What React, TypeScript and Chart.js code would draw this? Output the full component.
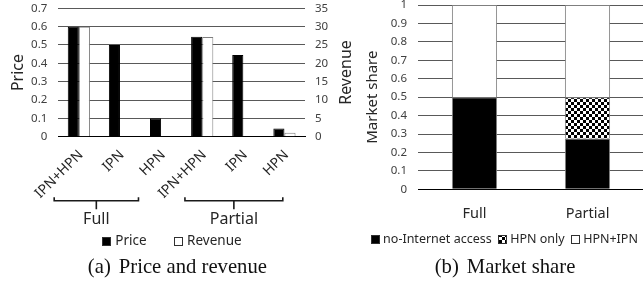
import React, { useEffect, useRef } from 'react';
import { Chart, registerables } from 'chart.js';

Chart.register(...registerables);

// ---- Data: (a) Price and revenue ----
const categories = ['IPN+HPN', 'IPN', 'HPN', 'IPN+HPN', 'IPN', 'HPN'];
const groups = ['Full', 'Partial'];
const price = [0.6, 0.5, 0.1, 0.545, 0.445, 0.045];
const revenue = [30, 0, 0, 27.2, 0, 1.1];

// ---- Data: (b) Market share ----
const shareCategories = ['Full', 'Partial'];
const noInternet = [0.5, 0.275];
const hpnOnly = [0, 0.225];
const hpnIpn = [0.5, 0.5];

const FONT = "'Noto Sans', 'Open Sans', sans-serif";
const TICK_COLOR = '#404040';
const TEXT_COLOR = '#262626';
const GRID = '#595959';
const CLEAR = 'rgba(0,0,0,0)';

const gridColor = (c: any) => (c.tick && c.tick.value === 0 ? '#000' : GRID);
const zeroSafeBorder = (c: any) => (c.type === 'data' && !c.raw ? 0 : 1);
const plainNum = (v: any) => String(Number(Number(v).toFixed(2)));

// bracket spans in category units (relative to first category center)
const bracketSpans = [
  { from: -0.6, to: 1.45 },
  { from: 2.58, to: 4.96 },
];

const makeLegendPlugin = (o: { cx: number; cy: number; size: number; box: number; gap: number; itemGap: number }) => ({
  id: 'boxLegend',
  afterDraw(chart: any) {
    const { ctx } = chart;
    ctx.save();
    ctx.font = `${o.size}px ${FONT}`;
    const items = chart.data.datasets.map((d: any) => ({ label: d.label, fill: d.backgroundColor }));
    const widths = items.map((it: any) => o.box + o.gap + ctx.measureText(it.label).width);
    const total = widths.reduce((a: number, b: number) => a + b, 0) + o.itemGap * (items.length - 1);
    let x = o.cx - total / 2;
    items.forEach((it: any, i: number) => {
      const top = Math.round(o.cy - o.box / 2);
      const left = Math.round(x);
      ctx.fillStyle = it.fill;
      ctx.fillRect(left, top, o.box, o.box);
      ctx.strokeStyle = '#303030';
      ctx.lineWidth = 1;
      ctx.strokeRect(left + 0.5, top + 0.5, o.box - 1, o.box - 1);
      ctx.fillStyle = TEXT_COLOR;
      ctx.textAlign = 'left';
      ctx.textBaseline = 'middle';
      ctx.fillText(it.label, x + o.box + o.gap, o.cy);
      x += widths[i] + o.itemGap;
    });
    ctx.restore();
  },
});

const bracketPlugin = {
  id: 'groupBrackets',
  afterDraw(chart: any) {
    const { ctx } = chart;
    const x = chart.scales.x;
    const p0 = x.getPixelForValue(0);
    const w = x.getPixelForValue(1) - p0;
    ctx.save();
    ctx.strokeStyle = '#1a1a1a';
    ctx.lineWidth = 1.6;
    const yLine = 200.7;
    groups.forEach((g, i) => {
      const s = bracketSpans[i];
      const l = p0 + s.from * w;
      const r = p0 + s.to * w;
      const c = (l + r) / 2;
      ctx.beginPath();
      ctx.moveTo(l, yLine - 3.5);
      ctx.lineTo(l, yLine);
      ctx.lineTo(r, yLine);
      ctx.lineTo(r, yLine - 3.5);
      ctx.moveTo(c, yLine);
      ctx.lineTo(c, yLine + 8.5);
      ctx.stroke();
      ctx.fillStyle = TEXT_COLOR;
      ctx.font = `16px ${FONT}`;
      ctx.textAlign = 'center';
      ctx.textBaseline = 'alphabetic';
      ctx.fillText(g, c, 223.5);
    });
    // right axis title (reads bottom-to-top)
    const y1 = chart.scales.y1;
    ctx.translate(346, (y1.top + y1.bottom) / 2);
    ctx.rotate(-Math.PI / 2);
    ctx.font = `16px ${FONT}`;
    ctx.textAlign = 'center';
    ctx.textBaseline = 'middle';
    ctx.fillStyle = TEXT_COLOR;
    ctx.fillText('Revenue', 0, 0);
    ctx.restore();
  },
};

function makeChecker(): CanvasPattern | string {
  const c = document.createElement('canvas');
  c.width = 6;
  c.height = 6;
  const g = c.getContext('2d');
  if (!g) return '#777';
  g.fillStyle = '#fff';
  g.fillRect(0, 0, 6, 6);
  g.fillStyle = '#000';
  g.fillRect(0, 0, 3, 3);
  g.fillRect(3, 3, 3, 3);
  const p = g.createPattern(c, 'repeat');
  return p || '#777';
}

function PriceChart() {
  const ref = useRef<HTMLCanvasElement>(null);
  useEffect(() => {
    if (!ref.current) return;
    const chart = new Chart(ref.current, {
      type: 'bar',
      data: {
        labels: categories,
        datasets: [
          {
            label: 'Price',
            data: price,
            backgroundColor: '#000',
            borderColor: '#000',
            borderWidth: 1,
            yAxisID: 'y',
            categoryPercentage: 0.54,
            barPercentage: 1,
          },
          {
            label: 'Revenue',
            data: revenue,
            backgroundColor: '#fff',
            borderColor: '#7f7f7f',
            borderWidth: zeroSafeBorder,
            yAxisID: 'y1',
            categoryPercentage: 0.54,
            barPercentage: 1,
          },
        ],
      },
      options: {
        animation: false,
        responsive: false,
        layout: { padding: { left: 0, right: 11.6, top: 8.3, bottom: 60 } },
        plugins: {
          legend: { display: false },
          tooltip: { enabled: false },
        },
        scales: {
          x: {
            grid: { display: false, drawTicks: false },
            border: { color: '#000', width: 1 },
            ticks: {
              autoSkip: false,
              maxRotation: 45,
              minRotation: 45,
              padding: 10,
              labelOffset: 2,
              color: TEXT_COLOR,
              font: { family: FONT, size: 14 },
            },
            afterFit: (s: any) => {
              s.height = 92.3;
            },
          },
          y: {
            position: 'left',
            min: 0,
            max: 0.7,
            ticks: { stepSize: 0.1, padding: 0, color: TICK_COLOR, font: { family: FONT, size: 11.5 }, callback: plainNum },
            grid: { color: gridColor, drawTicks: true, tickLength: 11, tickColor: CLEAR },
            border: { display: false },
            title: {
              display: true,
              text: 'Price',
              color: TEXT_COLOR,
              font: { family: FONT, size: 16, lineHeight: 1 },
              padding: { top: 10, bottom: 0 },
            },
            afterFit: (s: any) => {
              s.width = 58.3;
            },
          },
          y1: {
            position: 'right',
            min: 0,
            max: 35,
            ticks: { stepSize: 5, padding: 0, color: TICK_COLOR, font: { family: FONT, size: 11.5 } },
            grid: { color: CLEAR, drawTicks: true, tickLength: 10, tickColor: CLEAR, drawOnChartArea: false },
            border: { display: false },
            afterFit: (s: any) => {
              s.width = 38.4;
            },
          },
        },
      } as any,
      plugins: [bracketPlugin, makeLegendPlugin({ cx: 171.7, cy: 241, size: 13.5, box: 9, gap: 4.5, itemGap: 27 })],
    });
    return () => chart.destroy();
  }, []);
  return (
    <canvas
      ref={ref}
      width={355}
      height={289}
      style={{ position: 'absolute', left: 0, top: 0, width: 355, height: 289 }}
    />
  );
}

function ShareChart() {
  const ref = useRef<HTMLCanvasElement>(null);
  useEffect(() => {
    if (!ref.current) return;
    const checker = makeChecker();
    const common = { borderColor: '#7f7f7f', borderWidth: zeroSafeBorder, categoryPercentage: 0.4, barPercentage: 1 };
    const chart = new Chart(ref.current, {
      type: 'bar',
      data: {
        labels: shareCategories,
        datasets: [
          { label: 'no-Internet access', data: noInternet, backgroundColor: '#000', ...common },
          { label: 'HPN only', data: hpnOnly, backgroundColor: checker, ...common },
          { label: 'HPN+IPN', data: hpnIpn, backgroundColor: '#fff', ...common },
        ],
      },
      options: {
        animation: false,
        responsive: false,
        layout: { padding: { left: 10, right: 1, top: 5, bottom: 60 } },
        plugins: {
          legend: { display: false },
          tooltip: { enabled: false },
        },
        scales: {
          x: {
            stacked: true,
            grid: { display: false, drawTicks: false },
            border: { color: '#000', width: 1 },
            ticks: { padding: 15.5, color: TEXT_COLOR, font: { family: FONT, size: 14.5 } },
            afterFit: (s: any) => {
              s.height = 39.7;
            },
          },
          y: {
            stacked: true,
            min: 0,
            max: 1,
            ticks: {
              stepSize: 0.1,
              padding: 0,
              color: TICK_COLOR,
              font: { family: FONT, size: 11.5, lineHeight: 0.85 },
              callback: plainNum,
            },
            grid: { color: gridColor, drawTicks: true, tickLength: 11, tickColor: CLEAR },
            border: { display: false },
            title: {
              display: true,
              text: 'Market share',
              color: TEXT_COLOR,
              font: { family: FONT, size: 15, lineHeight: 1 },
              padding: { top: 0, bottom: 0 },
            },
            afterFit: (s: any) => {
              s.width = 53;
            },
          },
        },
      } as any,
      plugins: [makeLegendPlugin({ cx: 149.5, cy: 239.3, size: 12.5, box: 9, gap: 3, itemGap: 6.5 })],
    });
    return () => chart.destroy();
  }, []);
  return (
    <canvas
      ref={ref}
      width={290}
      height={289}
      style={{ position: 'absolute', left: 355, top: 0, width: 290, height: 289 }}
    />
  );
}

const captionStyle: React.CSSProperties = {
  position: 'absolute',
  top: 256,
  fontFamily: "'Liberation Serif', 'Times New Roman', serif",
  fontSize: 20.7,
  lineHeight: '21px',
  color: '#111',
  whiteSpace: 'nowrap',
  transform: 'translateX(-50%)',
};

export default function App() {
  return (
    <div
      style={{
        position: 'fixed',
        left: 0,
        top: 0,
        width: 643,
        height: 289,
        overflow: 'hidden',
        background: '#fff',
      }}
    >
      <PriceChart />
      <ShareChart />
      <div style={{ ...captionStyle, left: 177.4 }}>
        <span>(a)</span>
        <span style={{ marginLeft: 8 }}>Price and revenue</span>
      </div>
      <div style={{ ...captionStyle, left: 505 }}>
        <span>(b)</span>
        <span style={{ marginLeft: 8 }}>Market share</span>
      </div>
    </div>
  );
}
